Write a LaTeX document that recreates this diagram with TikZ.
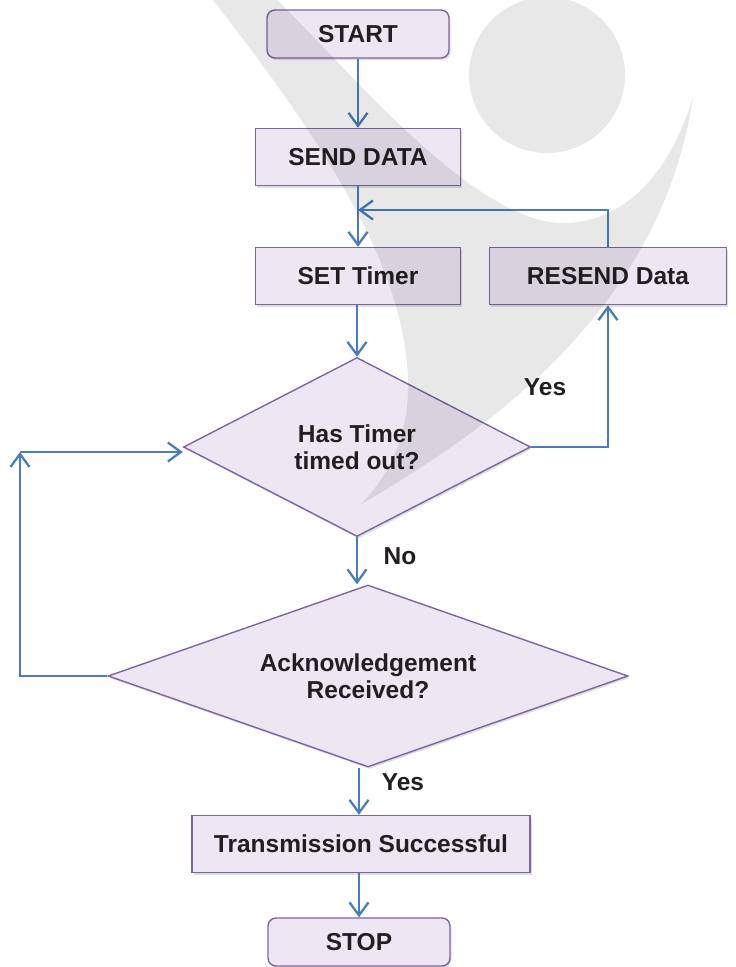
\documentclass[tikz,border=0pt]{standalone}
\usepackage{fontspec}
\setmainfont{Liberation Sans}
\usetikzlibrary{shapes.geometric,arrows.meta,shadows,calc,positioning}

\definecolor{boxfill}{RGB}{237,231,243}
\definecolor{boxline}{RGB}{128,100,162}
\definecolor{arrowblue}{RGB}{74,126,187}
\definecolor{txt}{RGB}{35,31,32}

\tikzset{
  flowbox/.style={rectangle, draw=boxline, fill=boxfill, line width=1.4pt, text=txt,
                  font=\fontsize{24.5}{27}\selectfont\bfseries, inner sep=0pt, align=center,
                  drop shadow={shadow xshift=1.5pt, shadow yshift=-2pt, opacity=0.25}},
  termbox/.style={flowbox, rounded corners=8pt, minimum width=182pt, minimum height=48pt},
  stepbox/.style={flowbox, minimum height=57pt},
  decide/.style={flowbox, diamond},
  arr/.style={draw=arrowblue, line width=2.3pt,
              -{Straight Barb[length=13pt,width=19pt]}},
  lbl/.style={text=txt, font=\fontsize{24.5}{27}\selectfont\bfseries, inner sep=0pt}
}

\begin{document}
\begin{tikzpicture}[x=1pt, y=-1pt]
                \useasboundingbox[fill=white] (0,0) rectangle (736,967);

                % Nodes
                \node[termbox] at (358, 34) (start) {START};
                \node[stepbox, minimum width=205pt] at (358, 157) (send) {SEND DATA};
                \node[stepbox, minimum width=205pt] at (358, 276) (set) {SET Timer};
                \node[stepbox, minimum width=237pt] at (608, 276) (resend) {RESEND Data};
                \node[decide, aspect=1.94, minimum width=347pt, minimum height=179pt] at (357, 447) (timeout) {Has Timer\\timed out?};
                \node[decide, aspect=2.86, minimum width=520pt, minimum height=182pt] at (368, 676) (ack) {Acknowledgement\\Received?};
                \node[stepbox, minimum width=338pt] at (361, 844) (done) {Transmission Successful};
                \node[termbox] at (359, 942) (stop) {STOP};

                \coordinate (join) at (358, 210);
                \coordinate (corner) at (20, 452);

                % Connectors
                \draw[arr] (start) -- (send);
                \draw[arr] (send) -- (set);
                \draw[arr] (resend.north) |- (join);
                \draw[arr] (set.south -| timeout.north) -- (timeout.north);
                \draw[arr] (timeout.east) -| (resend.south);
                \draw[arr] (timeout.south) -- (timeout.south |- ack.north);
                \draw[arr] (ack.west) -| (corner);
                \draw[arr] (corner) -- (corner -| timeout.west);
                \draw[arr] (ack.south -| stop.north) -- (done.north -| stop.north);
                \draw[arr] (done.south -| stop.north) -- (stop.north);

                % Labels
                \node[lbl] at (545, 387) (yes1) {Yes};
                \node[lbl] at (400, 556) (no) {No};
                \node[lbl] at (403, 782) (yes2) {Yes};

                % Watermark
                \fill[black, opacity=0.09] (547, 75) circle[radius=78];
                \fill[black, opacity=0.09] (213, 0) .. controls (330, 150) and (405, 270) .. (408, 380)
                    .. controls (410, 440) and (385, 480) .. (360, 505)
                    .. controls (470, 440) and (660, 320) .. (693, 97)
                    .. controls (665, 190) and (610, 225) .. (560, 223)
                    .. controls (470, 220) and (340, 60) .. (277, 0) -- cycle;

            \end{tikzpicture}
\end{document}
